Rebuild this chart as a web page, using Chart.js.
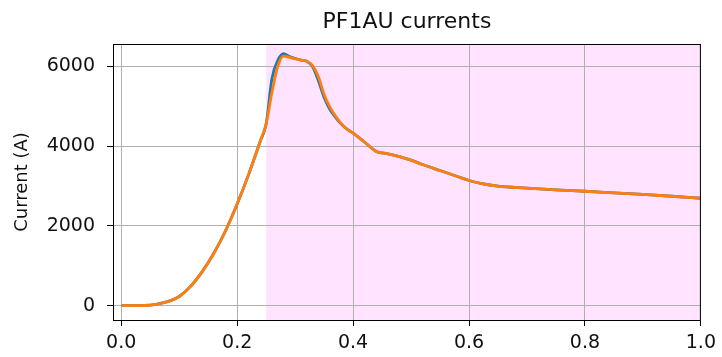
<!DOCTYPE html>
<html>
<head>
<meta charset="utf-8">
<script src="https://cdn.jsdelivr.net/npm/chart.js@4.4.1/dist/chart.umd.min.js"></script>
<style>
  html, body { margin: 0; padding: 0; background: #fff; }
  #wrap { width: 722px; height: 357px; position: relative; }
</style>
</head>
<body>
<div id="wrap"><canvas id="pfChart"></canvas></div>
<script>
// time axis (s) and the two current traces (A)
const times = [0, 0.02, 0.04, 0.06, 0.08, 0.1, 0.12, 0.14, 0.16, 0.18, 0.2, 0.22, 0.24, 0.25,
  0.26, 0.27, 0.28, 0.29, 0.3, 0.31, 0.32, 0.33, 0.34, 0.35, 0.36, 0.37, 0.38, 0.39, 0.4,
  0.42, 0.44, 0.46, 0.48, 0.5, 0.52, 0.55, 0.58, 0.6, 0.62, 0.65, 0.7, 0.75, 0.8, 0.85, 0.9, 0.95, 1.0];

const currentBlue = [0, 0, 5, 35, 100, 230, 490, 860, 1320, 1880, 2550, 3300, 4130, 4560,
  5700, 6150, 6320, 6250, 6200, 6160, 6130, 6000, 5650, 5220, 4920, 4720, 4550, 4420, 4330,
  4100, 3870, 3810, 3740, 3650, 3540, 3390, 3240, 3140, 3070, 3000, 2950, 2905, 2870, 2830, 2790, 2745, 2695];

const currentOrange = [0, 0, 5, 35, 100, 230, 490, 860, 1320, 1880, 2550, 3300, 4130, 4560,
  5350, 6000, 6260, 6230, 6190, 6160, 6130, 6020, 5750, 5300, 4980, 4750, 4560, 4420, 4330,
  4100, 3870, 3810, 3740, 3650, 3540, 3390, 3240, 3140, 3070, 3000, 2950, 2905, 2870, 2830, 2790, 2745, 2695];

const xTicks = [0, 0.2, 0.4, 0.6, 0.8, 1.0];
const yTicks = [0, 2000, 4000, 6000];
const shadeRange = [0.25, 1.0];

const chartTitle = 'PF1AU currents';
const yLabel = 'Current (A)';

const FONT = "'DejaVu Sans', sans-serif";

function toPoints(ys) {
  return times.map((t, i) => ({ x: t, y: ys[i] }));
}

// white background, magenta span, frame and title
const framePlugin = {
  id: 'frame',
  beforeDraw(chart) {
    const ctx = chart.ctx;
    const area = chart.chartArea;
    const xs = chart.scales.x;
    ctx.save();
    ctx.fillStyle = '#ffffff';
    ctx.fillRect(0, 0, chart.width, chart.height);
    const x0 = xs.getPixelForValue(shadeRange[0]);
    const x1 = xs.getPixelForValue(shadeRange[1]);
    ctx.fillStyle = 'rgba(255, 0, 255, 0.11)';
    ctx.fillRect(x0, area.top, x1 - x0, area.bottom - area.top);
    ctx.restore();
  },
  afterDatasetsDraw(chart) {
    const ctx = chart.ctx;
    const area = chart.chartArea;
    ctx.save();
    ctx.strokeStyle = '#000';
    ctx.lineWidth = 1;
    ctx.strokeRect(area.left + 0.5, area.top + 0.5, area.right - area.left - 1, area.bottom - area.top);
    ctx.fillStyle = '#111';
    ctx.font = '22px ' + FONT;
    ctx.textAlign = 'center';
    ctx.textBaseline = 'middle';
    ctx.fillText(chartTitle, (area.left + area.right) / 2, 22);
    ctx.restore();
  }
};

const ctx = document.getElementById('pfChart');

new Chart(ctx, {
  type: 'line',
  data: {
    datasets: [
      {
        data: toPoints(currentBlue),
        borderColor: '#1f77b4',
        borderWidth: 2.8,
        pointRadius: 0,
        order: 2,
        cubicInterpolationMode: 'monotone'
      },
      {
        data: toPoints(currentOrange),
        borderColor: '#ff7f0e',
        borderWidth: 2.8,
        pointRadius: 0,
        order: 1,
        cubicInterpolationMode: 'monotone'
      }
    ]
  },
  options: {
    responsive: true,
    maintainAspectRatio: false,
    animation: false,
    events: [],
    layout: { padding: { top: 44, right: 17, left: 0, bottom: 0 } },
    plugins: {
      legend: { display: false },
      title: { display: false },
      tooltip: { enabled: false }
    },
    scales: {
      x: {
        type: 'linear',
        min: -0.0142,
        max: 1.0,
        afterBuildTicks: s => { s.ticks = xTicks.map(v => ({ value: v })); },
        afterFit: s => { s.height = 37; },
        grid: { color: '#b0b0b0', lineWidth: 1, tickLength: 6, tickColor: '#000' },
        border: { display: false },
        ticks: {
          color: '#111',
          font: { family: FONT, size: 19 },
          padding: 6,
          maxRotation: 0,
          callback: v => v.toFixed(1)
        }
      },
      y: {
        type: 'linear',
        min: -359,
        max: 6564,
        afterBuildTicks: s => { s.ticks = yTicks.map(v => ({ value: v })); },
        afterFit: s => { s.width = 113; },
        grid: { color: '#b0b0b0', lineWidth: 1, tickLength: 6, tickColor: '#000' },
        border: { display: false },
        ticks: {
          color: '#111',
          font: { family: FONT, size: 19 },
          padding: 12,
          callback: v => String(v)
        },
        title: {
          display: true,
          text: yLabel,
          color: '#111',
          font: { family: FONT, size: 18 },
          padding: { top: 12, bottom: 0 }
        }
      }
    }
  },
  plugins: [framePlugin]
});
</script>
</body>
</html>
